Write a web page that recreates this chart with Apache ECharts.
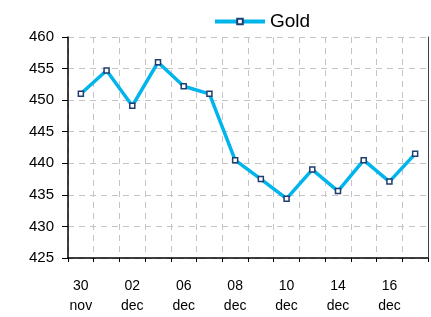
<!DOCTYPE html>
<html>
<head>
<meta charset="utf-8">
<script src="https://cdn.jsdelivr.net/npm/echarts@6/dist/echarts.min.js"></script>
<style>
html, body { margin: 0; padding: 0; background: #fff; }
#main { width: 431px; height: 317px; }
</style>
</head>
<body>
<div id="main"></div>
<script>
// data
var dates = ['30\nnov', '01\ndec', '02\ndec', '05\ndec', '06\ndec', '07\ndec', '08\ndec',
             '09\ndec', '10\ndec', '13\ndec', '14\ndec', '15\ndec', '16\ndec', '17\ndec'];
var gold = [451.0, 454.7, 449.1, 456.0, 452.2, 451.0, 440.5,
            437.5, 434.4, 439.0, 435.6, 440.5, 437.1, 441.5];

var myChart = echarts.init(document.getElementById('main'));

var font = 'Liberation Sans, Arial, sans-serif';
var gridLine = { show: true, lineStyle: { color: '#c4c4c4', type: [6, 5], width: 1 } };

var option = {
    animation: false,
    legend: {
        data: ['Gold'],
        left: 208,
        top: 7,
        itemWidth: 50,
        itemHeight: 7,
        itemGap: 4,
        lineStyle: { width: 4 },
        textStyle: { fontFamily: font, fontSize: 19, color: '#000' }
    },
    grid: { left: 68, right: 3, top: 37, bottom: 59, outerBoundsMode: 'none', containLabel: false },
    xAxis: {
        type: 'category',
        data: dates,
        boundaryGap: true,
        axisLine: { lineStyle: { color: '#000', width: 1.5 } },
        axisTick: { show: true, length: 4, interval: 0, lineStyle: { color: '#000' } },
        axisLabel: {
            interval: 1,
            margin: 18,
            fontFamily: font,
            fontSize: 14,
            lineHeight: 20,
            color: '#000'
        },
        splitLine: Object.assign({ interval: 0 }, gridLine)
    },
    yAxis: [{
        type: 'value',
        min: 425,
        max: 460,
        interval: 5,
        axisLine: { show: true, lineStyle: { color: '#000', width: 1.5 } },
        axisTick: { show: true, length: 6, lineStyle: { color: '#000' } },
        axisLabel: { margin: 14, fontFamily: font, fontSize: 15, color: '#000' },
        splitLine: gridLine
    }, {
        type: 'value',
        position: 'right',
        min: 425,
        max: 460,
        axisLine: { show: true, lineStyle: { color: '#404040', width: 1 } },
        axisTick: { show: false },
        axisLabel: { show: false },
        splitLine: { show: false }
    }],
    series: [{
        name: 'Gold',
        type: 'line',
        data: gold,
        symbol: 'rect',
        symbolSize: 5,
        lineStyle: { color: '#00b4ec', width: 3.5 },
        itemStyle: { color: '#ffffff', borderColor: '#1f3d6e', borderWidth: 1.5 }
    }]
};

myChart.setOption(option);
</script>
</body>
</html>
